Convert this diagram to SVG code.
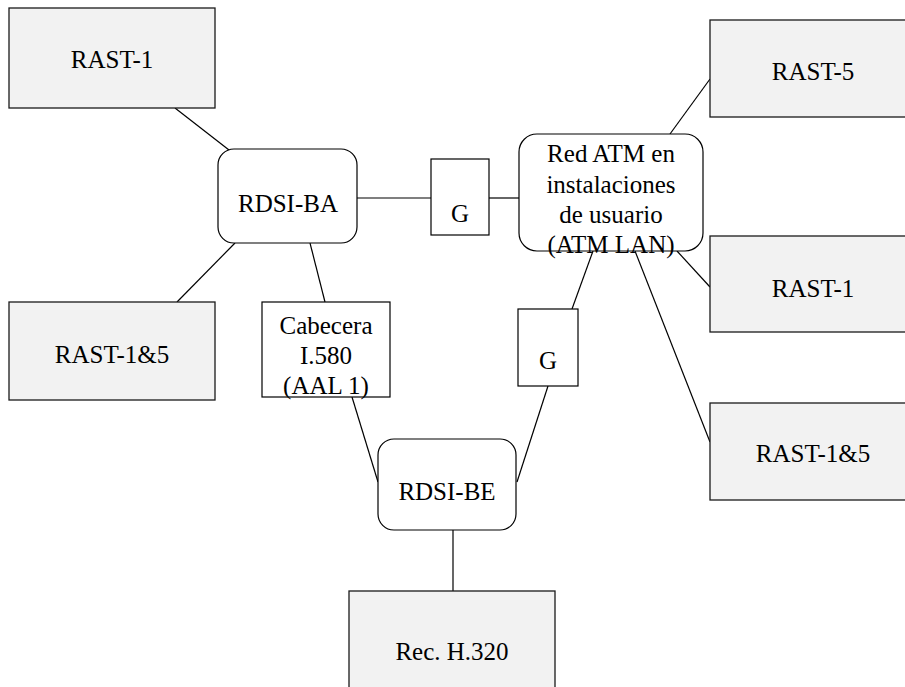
<svg xmlns="http://www.w3.org/2000/svg" width="905" height="687" viewBox="0 0 905 687">
<style>
.g{fill:#f2f2f2;stroke:#1a1a1a;stroke-width:1.3}
.w{fill:#fff;stroke:#000;stroke-width:1.2}
.t{font-family:"Liberation Serif","Times New Roman",serif;font-size:25px;fill:#000;text-anchor:middle}
.c line{stroke:#000;stroke-width:1.2}
</style>
<rect width="905" height="687" fill="#fff"/>
<g class="c">
<line x1="175" y1="108" x2="229" y2="150"/>
<line x1="177" y1="302" x2="235" y2="243"/>
<line x1="357" y1="198" x2="431" y2="198"/>
<line x1="489" y1="198" x2="519" y2="198"/>
<line x1="310" y1="243" x2="325" y2="302"/>
<line x1="352" y1="397" x2="378" y2="482"/>
<line x1="593" y1="251" x2="572" y2="309"/>
<line x1="548" y1="386" x2="517" y2="482"/>
<line x1="453" y1="530" x2="453" y2="591"/>
<line x1="670" y1="134" x2="710" y2="79"/>
<line x1="677" y1="251" x2="710" y2="287"/>
<line x1="635" y1="251" x2="710" y2="442"/>
</g>
<g id="rast1-left"><rect class="g" x="9" y="8" width="206" height="100"/><text class="t" x="112" y="68">RAST-1</text></g>
<g id="rast15-left"><rect class="g" x="9" y="302" width="206" height="98"/><text class="t" x="112" y="363">RAST-1&amp;5</text></g>
<g id="rdsi-ba"><rect class="w" x="218" y="149" width="139" height="94" rx="16"/><text class="t" x="288" y="212">RDSI-BA</text></g>
<g id="g1"><rect class="w" x="431" y="159" width="58" height="76"/><text class="t" x="460" y="222">G</text></g>
<g id="red-atm"><rect class="w" x="519" y="134" width="184" height="117" rx="18"/>
<text class="t" x="611" y="162">Red ATM en</text>
<text class="t" x="611" y="193">instalaciones</text>
<text class="t" x="611" y="223">de usuario</text>
<text class="t" x="611" y="253">(ATM LAN)</text></g>
<g id="cabecera"><rect class="w" x="262" y="302" width="128" height="95"/>
<text class="t" x="326" y="334">Cabecera</text>
<text class="t" x="326" y="364">I.580</text>
<text class="t" x="326" y="394">(AAL 1)</text></g>
<g id="g2"><rect class="w" x="518" y="309" width="60" height="77"/><text class="t" x="548" y="369">G</text></g>
<g id="rdsi-be"><rect class="w" x="378" y="439" width="138" height="91" rx="16"/><text class="t" x="447" y="500">RDSI-BE</text></g>
<g id="rec-h320"><rect class="g" x="349" y="591" width="206" height="110"/><text class="t" x="452" y="660">Rec. H.320</text></g>
<g id="rast5-right"><rect class="g" x="710" y="20" width="206" height="97"/><text class="t" x="813" y="80">RAST-5</text></g>
<g id="rast1-right"><rect class="g" x="710" y="236" width="206" height="96"/><text class="t" x="813" y="297">RAST-1</text></g>
<g id="rast15-right"><rect class="g" x="710" y="403" width="206" height="97"/><text class="t" x="813" y="462">RAST-1&amp;5</text></g>
</svg>
